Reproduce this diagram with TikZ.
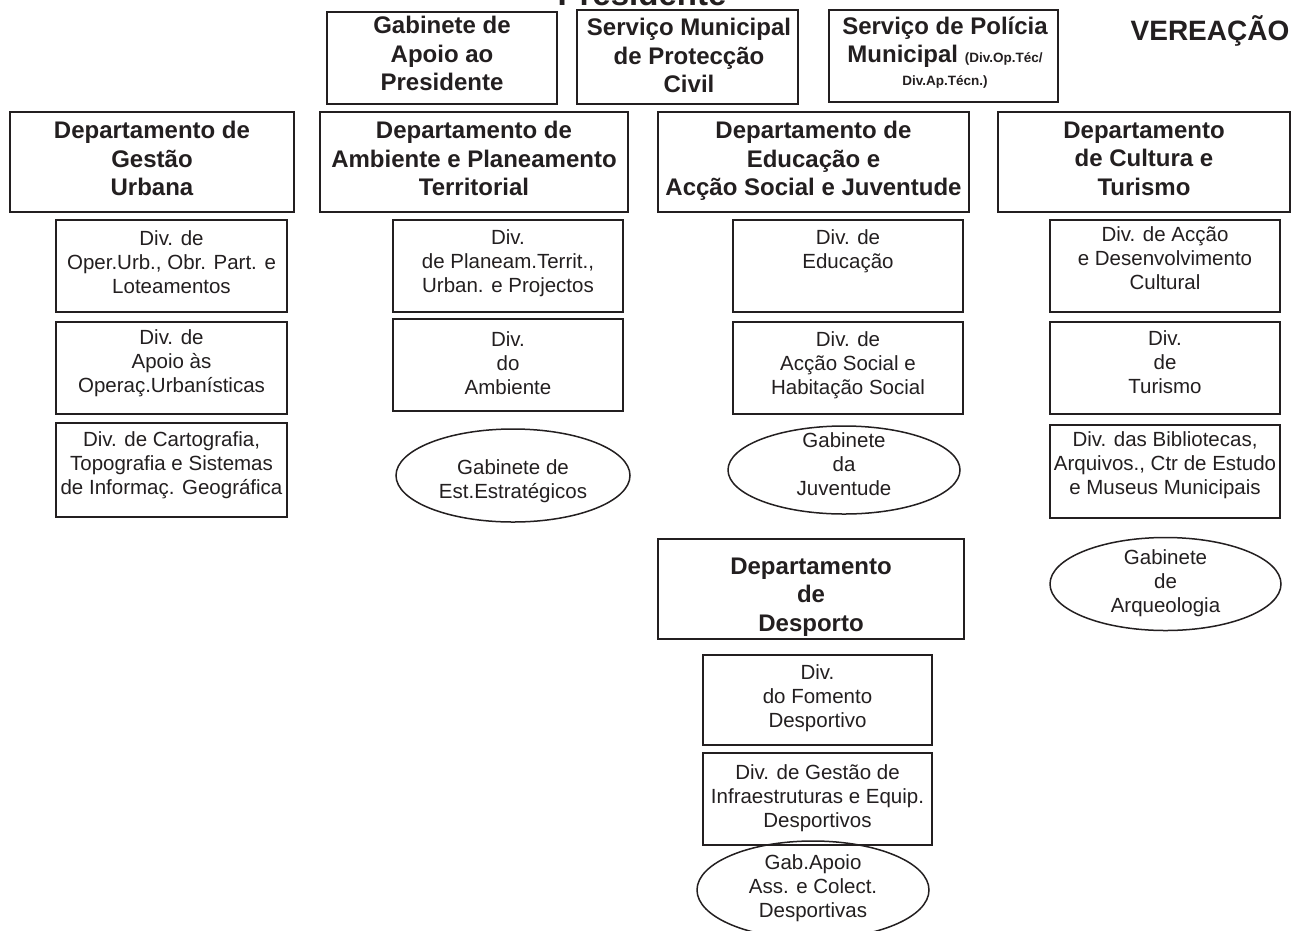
\documentclass[tikz,border=0pt]{standalone}
\usepackage{fontspec}
\setmainfont{Liberation Sans}
\usetikzlibrary{shapes.geometric}
\definecolor{ink}{HTML}{231F20}
\begin{document}
\begin{tikzpicture}[x=1pt,y=-1pt,
  rbox/.style={draw=ink, line width=1.7pt, rectangle, inner sep=0},
  oval/.style={draw=ink, line width=1.5pt, ellipse, inner sep=0},
  htxt/.style={text=ink, inner sep=0, anchor=north, align=center, font=\bfseries\fontsize{24}{28.5}\selectfont},
  dtxt/.style={text=ink, inner sep=0, anchor=north, align=center, font=\fontsize{20.5}{24}\selectfont},
  bigtxt/.style={text=ink, inner sep=0, anchor=base, font=\bfseries\fontsize{33}{38}\selectfont},
  vtxt/.style={text=ink, inner sep=0, anchor=base, font=\bfseries\fontsize{28}{32}\selectfont}
]
\useasboundingbox[fill=white] (0,0) rectangle (1301,930);

% top
\node[bigtxt] (pres) at (642,5) {Presidente};
\node[vtxt] (ver) at (1210,40) {VEREAÇÃO};

\node[rbox, minimum width=230, minimum height=92] (gab) at (442,58) {};
\node[htxt] (gabt) at (442,16.3) {Gabinete de\\Apoio ao\\Presidente};

\node[rbox, minimum width=221, minimum height=94] (prot) at (687.5,57) {};
\node[htxt] (prott) at (689,18.3) {Serviço Municipal\\de Protecção\\Civil};

\node[rbox, minimum width=229, minimum height=92] (pol) at (943.5,56) {};
\node[htxt] (polt) at (945,16.3) {Serviço de Polícia\\Municipal {\fontsize{13.5}{15}\selectfont (Div.Op.Téc/}\\[-5.5pt]{\fontsize{13.5}{15}\selectfont Div.Ap.Técn.)}};

% departments
\node[rbox, minimum width=284, minimum height=100] (d1) at (152,162) {};
\node[htxt] (d1t) at (152,121.3) {Departamento de\\Gestão\\Urbana};

\node[rbox, minimum width=308, minimum height=100] (d2) at (474,162) {};
\node[htxt] (d2t) at (474,121.3) {Departamento de\\Ambiente e Planeamento\\Territorial};

\node[rbox, minimum width=311, minimum height=100] (d3) at (813.5,162) {};
\node[htxt] (d3t) at (813.5,121.3) {Departamento de\\Educação e\\Acção Social e Juventude};

\node[rbox, minimum width=292, minimum height=100] (d4) at (1144,162) {};
\node[htxt] (d4t) at (1144,121.3) {Departamento\\de Cultura e\\Turismo};

% column 1
\node[rbox, minimum width=231, minimum height=92] (c1a) at (171.5,266) {};
\node[dtxt] (c1at) at (171.5,230) {Div. de\\Oper.Urb., Obr. Part. e\\Loteamentos};
\node[rbox, minimum width=231, minimum height=92] (c1b) at (171.5,368) {};
\node[dtxt] (c1bt) at (171.5,329) {Div. de\\Apoio às\\Operaç.Urbanísticas};
\node[rbox, minimum width=231, minimum height=94] (c1c) at (171.5,470) {};
\node[dtxt] (c1ct) at (171.5,431) {Div. de Cartografia,\\Topografia e Sistemas\\de Informaç. Geográfica};

% column 2
\node[rbox, minimum width=230, minimum height=92] (c2a) at (508,266) {};
\node[dtxt] (c2at) at (508,229.6) {Div.\\de Planeam.Territ.,\\Urban. e Projectos};
\node[rbox, minimum width=230, minimum height=92] (c2b) at (508,365) {};
\node[dtxt] (c2bt) at (508,331) {Div.\\do\\Ambiente};
\node[oval, minimum width=234, minimum height=93] (e2) at (513,475.5) {};
\node[dtxt] (e2t) at (513,459.6) {Gabinete de\\Est.Estratégicos};

% column 3
\node[rbox, minimum width=230, minimum height=92] (c3a) at (848,266) {};
\node[dtxt] (c3at) at (848,229.6) {Div. de\\Educação};
\node[rbox, minimum width=230, minimum height=92] (c3b) at (848,368) {};
\node[dtxt] (c3bt) at (848,331) {Div. de\\Acção Social e\\Habitação Social};
\node[oval, minimum width=232, minimum height=88] (e3) at (844,470) {};
\node[dtxt] (e3t) at (844,432.6) {Gabinete\\da\\Juventude};

% column 4
\node[rbox, minimum width=230, minimum height=92] (c4a) at (1165,266) {};
\node[dtxt] (c4at) at (1165,226.5) {Div. de Acção\\e Desenvolvimento\\Cultural};
\node[rbox, minimum width=230, minimum height=92] (c4b) at (1165,368) {};
\node[dtxt] (c4bt) at (1165,330) {Div.\\de\\Turismo};
\node[rbox, minimum width=230, minimum height=93] (c4c) at (1165,471.5) {};
\node[dtxt] (c4ct) at (1165,431) {Div. das Bibliotecas,\\Arquivos., Ctr de Estudo\\e Museus Municipais};
\node[oval, minimum width=231, minimum height=93] (e4) at (1165.5,584) {};
\node[dtxt] (e4t) at (1165.5,549.6) {Gabinete\\de\\Arqueologia};

% desporto
\node[rbox, minimum width=306, minimum height=100] (d5) at (811,589) {};
\node[htxt] (d5t) at (811,557.3) {Departamento\\de\\Desporto};
\node[rbox, minimum width=229, minimum height=90] (c5a) at (817.5,700) {};
\node[dtxt] (c5at) at (817.5,664.6) {Div.\\do Fomento\\Desportivo};
\node[rbox, minimum width=229, minimum height=92] (c5b) at (817.5,799) {};
\node[dtxt] (c5bt) at (817.5,764.6) {Div. de Gestão de\\Infraestruturas e Equip.\\Desportivos};
\node[oval, minimum width=232, minimum height=98] (e5) at (813,890) {};
\node[dtxt] (e5t) at (813,854.6) {Gab.Apoio\\Ass. e Colect.\\Desportivas};
\end{tikzpicture}
\end{document}
